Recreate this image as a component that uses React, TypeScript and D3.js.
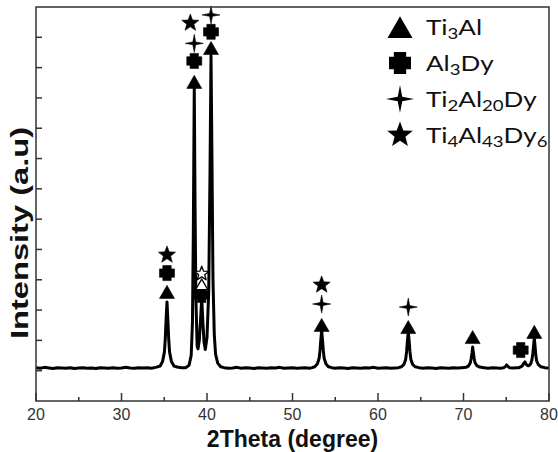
import React from 'react';
import * as d3 from 'd3';

// x axis (2Theta, degree)
const xTicks = [20, 30, 40, 50, 60, 70, 80];
const xMinorTicks = [25, 35, 45, 55, 65, 75];
// unlabelled intensity ticks
const yTicks = [1, 2, 3, 4, 5, 6, 7, 8, 9, 10, 11, 12];

// XRD pattern: [2Theta, intensity]
const pattern: [number, number][] = [
  [20, 1.1], [20.5, 1.08], [21, 1.11], [21.5, 1.09], [22, 1.07], [22.5, 1.1], [23, 1.09],
  [23.5, 1.08], [24, 1.1], [24.5, 1.07], [25, 1.09], [25.5, 1.1], [26, 1.08], [26.5, 1.09],
  [27, 1.07], [27.5, 1.1], [28, 1.09], [28.5, 1.08], [29, 1.1], [29.5, 1.08], [30, 1.09],
  [30.5, 1.11], [31, 1.09], [31.5, 1.08], [32, 1.1], [32.5, 1.09], [33, 1.1], [33.5, 1.08],
  [34, 1.11], [34.5, 1.15], [34.8, 1.3], [35.02, 1.62], [35.12, 2.05], [35.22, 2.7],
  [35.32, 3.27], [35.42, 2.7], [35.52, 2.05], [35.62, 1.62], [35.84, 1.3], [36.15, 1.15],
  [36.5, 1.12], [37, 1.1], [37.5, 1.1], [37.9, 1.18], [38.15, 1.5], [38.3, 2.6], [38.4, 5.5],
  [38.51, 10.36], [38.6, 6.5], [38.7, 3.4], [38.85, 1.8], [38.95, 1.72], [39.1, 2.0],
  [39.25, 2.7], [39.38, 3.4], [39.5, 2.7], [39.65, 1.95], [39.8, 1.7], [40.0, 2.1], [40.2, 3.6],
  [40.35, 7.5], [40.47, 11.4], [40.58, 8.0], [40.7, 4.0], [40.85, 2.2], [41.0, 1.55],
  [41.25, 1.25], [41.6, 1.13], [42, 1.1], [42.5, 1.08], [43, 1.09], [43.5, 1.11], [44, 1.08],
  [44.5, 1.1], [45, 1.09], [45.5, 1.07], [46, 1.1], [46.5, 1.09], [47, 1.08], [47.5, 1.1],
  [48, 1.09], [48.5, 1.11], [49, 1.08], [49.5, 1.09], [50, 1.1], [50.5, 1.08], [51, 1.09],
  [51.5, 1.1], [52, 1.08], [52.3, 1.1], [52.6, 1.13], [52.9, 1.22], [53.11, 1.4], [53.21, 1.65],
  [53.31, 2.0], [53.41, 2.34], [53.51, 2.0], [53.61, 1.65], [53.71, 1.4], [53.92, 1.22],
  [54.2, 1.13], [54.6, 1.1], [55, 1.08], [55.5, 1.1], [56, 1.09], [56.5, 1.07], [57, 1.1],
  [57.5, 1.09], [58, 1.08], [58.5, 1.1], [59, 1.09], [59.5, 1.11], [60, 1.08], [60.5, 1.09],
  [61, 1.1], [61.5, 1.08], [62, 1.09], [62.4, 1.1], [62.75, 1.13], [63.04, 1.21], [63.24, 1.38],
  [63.34, 1.62], [63.44, 1.98], [63.54, 2.28], [63.64, 1.98], [63.74, 1.62], [63.84, 1.38],
  [64.04, 1.21], [64.35, 1.13], [64.8, 1.1], [65.3, 1.08], [65.8, 1.1], [66.3, 1.09],
  [66.8, 1.07], [67.3, 1.1], [67.8, 1.09], [68.3, 1.08], [68.8, 1.1], [69.3, 1.09], [69.8, 1.1],
  [70.3, 1.11], [70.6, 1.16], [70.8, 1.26], [70.9, 1.4], [71.0, 1.6], [71.07, 1.78],
  [71.15, 1.6], [71.25, 1.4], [71.35, 1.26], [71.55, 1.17], [71.9, 1.12], [72.4, 1.1],
  [72.9, 1.08], [73.4, 1.1], [73.9, 1.09], [74.4, 1.08], [74.7, 1.1], [74.95, 1.15],
  [75.05, 1.19], [75.15, 1.15], [75.4, 1.1], [75.8, 1.09], [76.2, 1.1], [76.5, 1.1],
  [76.85, 1.15], [77.05, 1.24], [77.19, 1.29], [77.35, 1.2], [77.6, 1.16], [77.85, 1.22],
  [78.0, 1.35], [78.1, 1.55], [78.19, 1.8], [78.28, 2.08], [78.37, 1.8], [78.46, 1.5],
  [78.56, 1.32], [78.75, 1.2], [79.05, 1.13], [79.5, 1.1], [80, 1.09],
];

// phase markers: [2Theta, height]
const ti3alMarks: [number, number][] = [
  [35.32, 3.6], [38.51, 10.53], [40.47, 11.65], [53.41, 2.51], [63.54, 2.44], [71.07, 2.11], [78.28, 2.28],
];
const ti3alOpenMarks: [number, number][] = [[39.38, 3.85]];
const al3dyMarks: [number, number][] = [
  [35.32, 4.22], [38.51, 11.22], [39.38, 3.5], [40.47, 12.18], [76.69, 1.68],
];
const ti2al20dyMarks: [number, number][] = [[38.51, 11.8], [40.47, 12.74], [53.41, 3.2], [63.54, 3.1]];
const ti4al43dy6Marks: [number, number][] = [[35.32, 4.82], [38.05, 12.47], [53.41, 3.83]];
const ti4al43dy6OpenMarks: [number, number][] = [[39.38, 4.2]];

// legend labels, [text, isSubscript]
const legendLabels: [string, boolean][][] = [
  [['Ti', false], ['3', true], ['Al', false]],
  [['Al', false], ['3', true], ['Dy', false]],
  [['Ti', false], ['2', true], ['Al', false], ['20', true], ['Dy', false]],
  [['Ti', false], ['4', true], ['Al', false], ['43', true], ['Dy', false], ['6', true]],
];
const legendSymbols = ['triangle', 'cross', 'sparkle', 'star'];

const width = 558;
const height = 452;
const margin = { top: 7, right: 9, bottom: 51, left: 36 };

function symbolPath(type: string, cx: number, cy: number, s: number) {
  if (type === 'triangle') {
    const h = s * 0.87;
    return `M${cx},${cy - h / 2}L${cx + s / 2},${cy + h / 2}L${cx - s / 2},${cy + h / 2}Z`;
  }
  if (type === 'cross') {
    const a = s / 2;
    const t = s * 0.28;
    return `M${cx - t},${cy - a}H${cx + t}V${cy - t}H${cx + a}V${cy + t}H${cx + t}V${cy + a}H${cx - t}V${cy + t}H${cx - a}V${cy - t}H${cx - t}Z`;
  }
  if (type === 'sparkle') {
    const r = s / 2;
    const k = r * 0.16;
    return `M${cx},${cy - r}L${cx + k},${cy - k}L${cx + r},${cy}L${cx + k},${cy + k}L${cx},${cy + r}L${cx - k},${cy + k}L${cx - r},${cy}L${cx - k},${cy - k}Z`;
  }
  // five point star
  const r = s / 2;
  const inner = r * 0.42;
  const pts = d3.range(10).map((i) => {
    const ang = -Math.PI / 2 + (i * Math.PI) / 5;
    const rr = i % 2 === 0 ? r : inner;
    return [cx + rr * Math.cos(ang), cy + rr * Math.sin(ang)];
  });
  return 'M' + pts.map((p) => p.join(',')).join('L') + 'Z';
}

export default function App() {
  const x = d3.scaleLinear().domain([20, 80]).range([margin.left, width - margin.right]);
  const y = d3.scaleLinear().domain([0, 13]).range([height - margin.bottom, margin.top]);

  const line = d3
    .line<[number, number]>()
    .x((d) => x(d[0]))
    .y((d) => y(d[1]));

  const axisColor = '#333';
  const bottom = height - margin.bottom;

  const marks = (data: [number, number][], type: string, size: number, open = false) =>
    data.map((d, i) => (
      <path
        key={type + i + open}
        d={symbolPath(type, x(d[0]), y(d[1]), size)}
        fill={open ? '#fff' : '#000'}
        stroke="#000"
        strokeWidth={open ? 1.3 : 0.6}
        strokeLinejoin="round"
      />
    ));

  return (
    <svg width={width} height={height} style={{ position: 'absolute', left: 0, top: 0, background: '#fff' }}>
      <rect x={0} y={0} width={width} height={height} fill="#fff" />

      {/* pattern */}
      <path d={line(pattern) || ''} fill="none" stroke="#000" strokeWidth={3} strokeLinejoin="round" />

      {/* markers */}
      {marks(ti3alMarks, 'triangle', 15)}
      {marks(al3dyMarks, 'cross', 15)}
      {marks(ti2al20dyMarks, 'sparkle', 18)}
      {marks(ti4al43dy6Marks, 'star', 18)}
      {marks(ti4al43dy6OpenMarks, 'star', 15, true)}
      {marks(ti3alOpenMarks, 'triangle', 12, true)}

      {/* frame */}
      <rect
        x={margin.left}
        y={margin.top}
        width={width - margin.left - margin.right}
        height={bottom - margin.top}
        fill="none"
        stroke={axisColor}
        strokeWidth={1.5}
      />

      {/* x ticks */}
      {xTicks.map((t) => (
        <g key={'xt' + t}>
          <line x1={x(t)} x2={x(t)} y1={bottom} y2={bottom - 8} stroke={axisColor} strokeWidth={1.5} />
          <text
            x={x(t)}
            y={420}
            textAnchor="middle"
            fontFamily="Liberation Sans, Arial, sans-serif"
            fontSize={16}
            fill="#333"
          >
            {t}
          </text>
        </g>
      ))}
      {xMinorTicks.map((t) => (
        <line key={'xm' + t} x1={x(t)} x2={x(t)} y1={bottom} y2={bottom - 4} stroke={axisColor} strokeWidth={1.5} />
      ))}

      {/* y ticks */}
      {yTicks.map((t) => (
        <line key={'yt' + t} x1={margin.left} x2={margin.left + 6} y1={y(t)} y2={y(t)} stroke={axisColor} strokeWidth={1.5} />
      ))}

      {/* axis titles */}
      <text
        x={(margin.left + width - margin.right) / 2}
        y={447}
        textAnchor="middle"
        fontFamily="Liberation Sans, Arial, sans-serif"
        fontWeight="bold"
        fontSize={23}
        fill="#111"
      >
        2Theta (degree)
      </text>
      <text
        transform="translate(28,233) rotate(-90)"
        textAnchor="middle"
        fontFamily="Liberation Sans, Arial, sans-serif"
        fontWeight="bold"
        fontSize={24}
        textLength={212}
        lengthAdjust="spacingAndGlyphs"
        fill="#111"
      >
        Intensity (a.u)
      </text>

      {/* legend */}
      {legendLabels.map((parts, i) => {
        const cy = 27 + i * 36;
        const sizes = [25, 22, 28, 27];
        return (
          <g key={'lg' + i}>
            <path d={symbolPath(legendSymbols[i], 400, cy, sizes[i])} fill="#000" strokeLinejoin="round" />
            <g transform={`translate(426,${cy + 8}) scale(1.24,1)`}>
              <text fontFamily="Lato, sans-serif" fontSize={21} fill="#111">
                {parts.map(([s, sub], j) => {
                  const prevSub = j > 0 && parts[j - 1][1];
                  const dy = sub ? 4 : prevSub ? -4 : 0;
                  return (
                    <tspan key={j} fontSize={sub ? 15 : 21} dy={dy}>
                      {s}
                    </tspan>
                  );
                })}
              </text>
            </g>
          </g>
        );
      })}
    </svg>
  );
}
